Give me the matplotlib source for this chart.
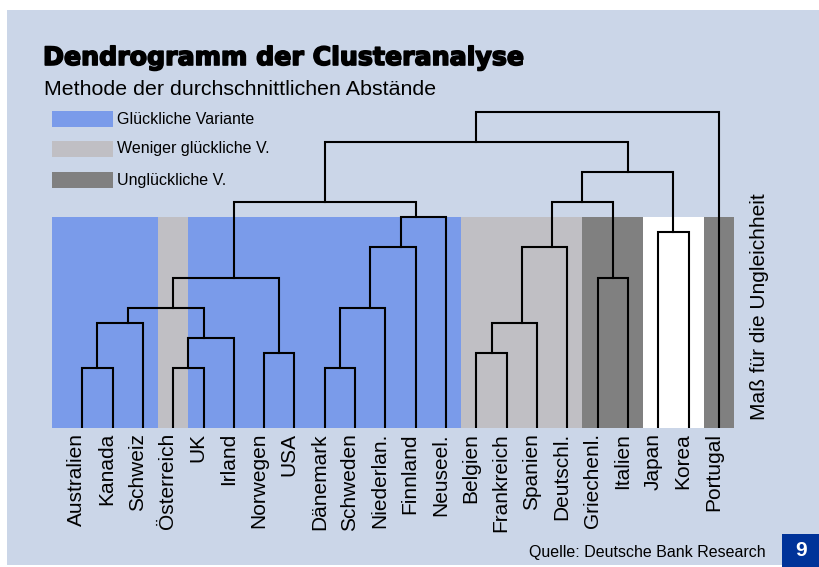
import matplotlib
matplotlib.use("Agg")
import matplotlib.pyplot as plt
import matplotlib.patches as mpatches
import matplotlib.transforms as mtransforms
import matplotlib.patheffects as pe

# ---------------- data ----------------
countries = ["Australien", "Kanada", "Schweiz", "Österreich", "UK", "Irland",
             "Norwegen", "USA", "Dänemark", "Schweden", "Niederlan.", "Finnland",
             "Neuseel.", "Belgien", "Frankreich", "Spanien", "Deutschl.",
             "Griechenl.", "Italien", "Japan", "Korea", "Portugal"]
# variant group per country: 0 = glücklich, 1 = weniger glücklich, 2 = unglücklich, 3 = none
variant = [0, 0, 0, 1, 0, 0, 0, 0, 0, 0, 0, 0, 0, 1, 1, 1, 1, 2, 2, 3, 3, 2]
variant_names = ["Glückliche Variante", "Weniger glückliche V.", "Unglückliche V."]

# merges: node ids 0..21 are countries, merge k creates node 22 + k
merge_left = [0, 22, 3, 24, 23, 6, 26, 8, 29, 30, 31, 28, 13, 34, 35, 17, 36, 19, 38, 33, 41]
merge_right = [1, 2, 4, 5, 25, 7, 27, 9, 10, 11, 12, 32, 14, 15, 16, 18, 37, 20, 39, 40, 21]
merge_height = [2.0, 3.5, 2.0, 3.0, 4.0, 2.5, 5.0, 2.0, 4.0, 6.0, 7.0, 7.5,
                2.5, 3.5, 6.0, 5.0, 7.5, 6.5, 8.5, 9.5, 10.5]
# horizontal position of each merged cluster (in leaf units), as drawn in the original
merge_pos = [0.5, 1.5, 3.5, 4.0, 3.0, 6.5, 5.0, 8.5, 9.5, 10.5, 11.0, 8.0,
             13.5, 14.5, 15.5, 17.5, 16.5, 19.5, 18.0, 13.0, None]
band_top = 7.0
# --------------------------------------

W, H = 820, 567
fig = plt.figure(figsize=(W / 100, H / 100), dpi=100)
fig.patch.set_facecolor("white")

panel_col = "#cbd6e8"
fig.add_artist(mpatches.Rectangle((7 / W, 1 - 565 / H), (819 - 7) / W, (565 - 10) / H,
                                  transform=fig.transFigure, facecolor=panel_col,
                                  edgecolor="none", zorder=0))

band_cols = ["#7a9bea", "#c0bfc4", "#808080", "#ffffff"]

ax_l, ax_r, ax_b, ax_t = 52, 734, 428, 100
ax = fig.add_axes([ax_l / W, 1 - ax_b / H, (ax_r - ax_l) / W, (ax_b - ax_t) / H])
ax.set_facecolor("none")
n = len(countries)
ax.set_xlim(-1, n - 0.5)
ax.set_ylim(0, (ax_b - ax_t) / 30.1)
ax.axis("off")

# colored bands
xs = list(range(n))
ax.bar(xs, [band_top] * n, width=1.0, color=[band_cols[v] for v in variant],
       edgecolor="none", zorder=1)
ax.axvspan(-1, -0.5, ymin=0, ymax=band_top / ax.get_ylim()[1],
           color=band_cols[variant[0]], lw=0, zorder=1)

# dendrogram
pos = {i: float(i) for i in range(n)}
hgt = {i: 0.0 for i in range(n)}
for k, (a, b, h) in enumerate(zip(merge_left, merge_right, merge_height)):
    node = n + k
    xa, xb = pos[a], pos[b]
    ax.plot([xa, xa, xb, xb], [hgt[a], h, h, hgt[b]], color="black", lw=1.5,
            solid_joinstyle="miter", zorder=3)
    p = merge_pos[k]
    pos[node] = p if p is not None else (xa + xb) / 2
    hgt[node] = h

# leaf labels
trans = mtransforms.offset_copy(ax.get_xaxis_transform(), fig=fig, x=0, y=-5, units="dots")
for i, name in enumerate(countries):
    ax.text(i, 0, name, transform=trans, rotation=90, rotation_mode="anchor",
            ha="right", va="baseline", fontsize=15, family="Liberation Sans",
            color="black", zorder=4)

# titles
fig.text(43 / W, 1 - 65 / H, "Dendrogramm der Clusteranalyse", fontsize=18.2,
         fontweight="bold", family="DejaVu Sans", ha="left", va="baseline",
         path_effects=[pe.withStroke(linewidth=1.2, foreground="black")])
fig.text(44 / W, 1 - 95 / H, "Methode der durchschnittlichen Abstände", fontsize=15.4,
         family="Liberation Sans", ha="left", va="baseline")

# legend
leg_y = [119, 149, 180]
for col, name, yc in zip(band_cols[:3], variant_names, leg_y):
    fig.add_artist(mpatches.Rectangle((52 / W, 1 - (yc + 8) / H), 61 / W, 16 / H,
                                      transform=fig.transFigure, facecolor=col,
                                      edgecolor="none"))
    fig.text(117 / W, 1 - yc / H, name, fontsize=11.5, family="Liberation Sans",
             ha="left", va="center")

# y label
fig.text(769 / W, 1 - 307 / H, "Maß für die Ungleichheit", rotation=90, fontsize=15,
         family="Liberation Sans", ha="right", va="center")

# source + page number
fig.text(766 / W, 1 - 553 / H, "Quelle: Deutsche Bank Research", fontsize=11.5,
         family="Liberation Sans", ha="right", va="center")
fig.add_artist(mpatches.Rectangle((782 / W, 0), 38 / W, 33 / H, transform=fig.transFigure,
                                  facecolor="#003399", edgecolor="none"))
fig.text(801 / W, 1 - 551 / H, "9", fontsize=15, fontweight="bold",
         family="Liberation Sans", color="white", ha="center", va="center")

fig.savefig("out.png", dpi=100, facecolor=fig.get_facecolor())
